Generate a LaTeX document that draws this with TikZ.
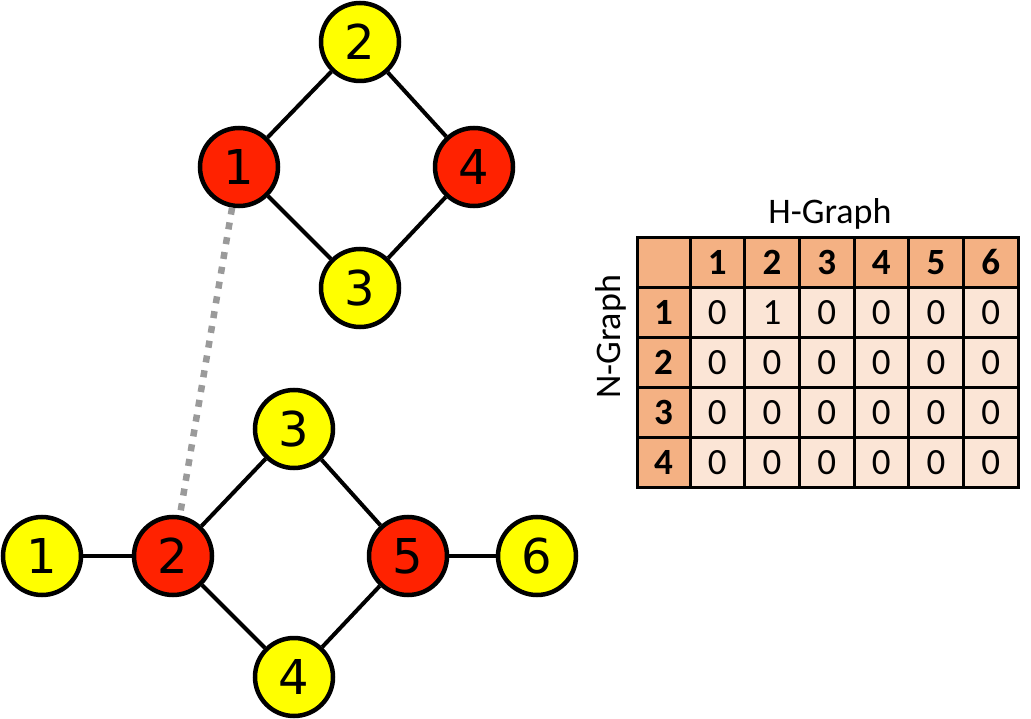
\documentclass[tikz,border=0pt]{standalone}
\usepackage{fontspec}
\setmainfont{Carlito}
\newfontfamily\vtxfont{DejaVu Sans}
\newfontfamily\tabfont{Carlito}

\definecolor{hubred}{HTML}{FF2200}
\definecolor{leafyellow}{HTML}{FFFF00}
\definecolor{headfill}{HTML}{F4B183}
\definecolor{bodyfill}{HTML}{FBE5D6}
\definecolor{linkgray}{HTML}{9A9A9A}

\tikzset{
  vtx/.style={circle, draw=black, line width=4.5pt, minimum size=78pt,
    inner sep=0pt, text height=35pt, text depth=0pt,
    font=\vtxfont\fontsize{48}{48}\selectfont},
  hub/.style={vtx, fill=hubred},
  leaf/.style={vtx, fill=leafyellow},
  edge/.style={draw=black, line width=4pt},
  link/.style={draw=linkgray, line width=6.5pt, dash pattern=on 7pt off 8pt},
  cell/.style={rectangle, draw=black, line width=3pt, inner sep=0pt,
    minimum width=54.67pt, minimum height=49.8pt,
    text height=24pt, text depth=0pt,
    font=\tabfont\fontsize{37}{37}\selectfont},
  headcell/.style={cell, fill=headfill, font=\tabfont\bfseries\fontsize{37}{37}\selectfont},
  bodycell/.style={cell, fill=bodyfill},
  caption/.style={font=\tabfont\fontsize{36}{36}\selectfont, inner sep=0pt}
}

\begin{document}
\begin{tikzpicture}[x=1pt, y=-1pt]
\useasboundingbox (0,0) rectangle (1031,719);

% upper graph
\node[leaf] (t2) at (360,42)  {2};
\node[hub]  (t1) at (239,167) {1};
\node[hub]  (t4) at (474,167) {4};
\node[leaf] (t3) at (360,288) {3};

% lower graph
\node[leaf] (b1) at (42,556)  {1};
\node[hub]  (b2) at (173,556) {2};
\node[leaf] (b3) at (294,429) {3};
\node[leaf] (b4) at (294,677) {4};
\node[hub]  (b5) at (408,556) {5};
\node[leaf] (b6) at (537,556) {6};

% edges
\draw[edge] (t1) -- (t2);
\draw[edge] (t2) -- (t4);
\draw[edge] (t1) -- (t3);
\draw[edge] (t3) -- (t4);
\draw[edge] (b1) -- (b2);
\draw[edge] (b2) -- (b3);
\draw[edge] (b2) -- (b4);
\draw[edge] (b3) -- (b5);
\draw[edge] (b4) -- (b5);
\draw[edge] (b5) -- (b6);

% correspondence between the two graphs
\draw[link] (t1) -- (b2);

% matching table
\node[headcell, minimum width=53pt] (c00) at (663.5,262.9) {};
\foreach \j in {1,...,6} {
  \pgfmathsetmacro{\cx}{690+(\j-0.5)*54.67}
  \node[headcell] (c0\j) at (\cx,262.9) {\j};
}
\foreach \i in {1,...,4} {
  \pgfmathsetmacro{\cy}{238+(\i+0.5)*49.8}
  \node[headcell, minimum width=53pt] (c\i0) at (663.5,\cy) {\i};
  \foreach \j in {1,...,6} {
    \pgfmathsetmacro{\cx}{690+(\j-0.5)*54.67}
    \node[bodycell] (c\i\j) at (\cx,\cy)
      {\ifnum\i=1 \ifnum\j=2 1\else 0\fi\else 0\fi};
  }
}

\node[caption] (hcap) at (830,214) {H-Graph};
\node[caption, rotate=90] (ncap) at (611,337) {N-Graph};
\end{tikzpicture}
\end{document}
